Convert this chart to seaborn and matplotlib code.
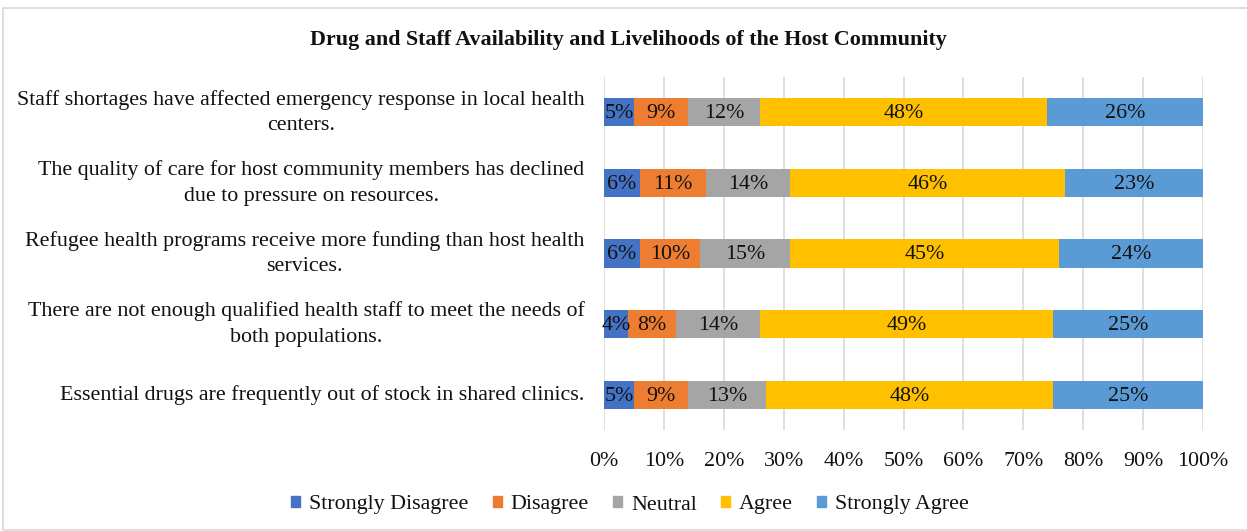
import numpy as np
import pandas as pd
import matplotlib
matplotlib.use("Agg")
import matplotlib.pyplot as plt
from matplotlib.patches import Rectangle
import seaborn as sns

statements = [
    "Staff shortages have affected emergency response in local health\ncenters.",
    "The quality of care for host community members has declined\ndue to pressure on resources.",
    "Refugee health programs receive more funding than host health\nservices.",
    "There are not enough qualified health staff to meet the needs of\nboth populations.",
    "Essential drugs are frequently out of stock in shared clinics.",
]
responses = ["Strongly Disagree", "Disagree", "Neutral", "Agree", "Strongly Agree"]
strongly_disagree = [5, 6, 6, 4, 5]
disagree = [9, 11, 10, 8, 9]
neutral = [12, 14, 15, 14, 13]
agree = [48, 46, 45, 49, 48]
strongly_agree = [26, 23, 24, 25, 25]
tick_labels = ["0%", "10%", "20%", "30%", "40%", "50%", "60%", "70%", "80%", "90%", "100%"]

colors = ["#4472C4", "#ED7D31", "#A5A5A5", "#FFC000", "#5B9BD5"]

sns.set_theme(style="white")
plt.rcParams["font.family"] = ["Liberation Serif", "DejaVu Serif"]
FS = 15.8
TXT = "#111111"

values = np.array([strongly_disagree, disagree, neutral, agree, strongly_agree], dtype=float)
cum = np.cumsum(values, axis=0)

fig = plt.figure(figsize=(12.47, 5.31), dpi=100)
ax = fig.add_axes([604 / 1247, 1 - 430 / 531, (1203 - 604) / 1247, (430 - 77) / 531])

# Stack by drawing cumulative totals from the outermost segment inward
for i in range(len(responses) - 1, -1, -1):
    df = pd.DataFrame({"statement": statements, "total": cum[i]})
    sns.barplot(data=df, x="total", y="statement", orient="h", color=colors[i],
                width=0.4, saturation=1, ax=ax, edgecolor="none", linewidth=0,
                zorder=2)

# Segment labels
for i in range(len(responses)):
    for j in range(len(statements)):
        left = cum[i][j] - values[i][j]
        ax.text(left + values[i][j] / 2, j + 0.02, f"{int(values[i][j])}%", ha="center",
                va="center", fontsize=FS, color=TXT, zorder=3)

ax.set_xlim(0, 100)
ax.set_ylim(4.5, -0.5)
ax.set_xticks(np.arange(0, 101, 10))
ax.set_xticklabels(tick_labels, fontsize=FS, color=TXT)
ax.set_yticks(range(len(statements)))
ax.set_yticklabels(statements, fontsize=FS, color=TXT, multialignment="center",
                   linespacing=1.45, va="center")
ax.tick_params(axis="x", length=0, pad=16)
ax.tick_params(axis="y", length=0, pad=14)
ax.set_xlabel("")
ax.set_ylabel("")
ax.xaxis.grid(True, color="#D9D9D9", linewidth=1.2, zorder=0)
ax.set_axisbelow(True)
for s in ax.spines.values():
    s.set_visible(False)

fig.text(628 / 1247, 1 - 40 / 531, "Drug and Staff Availability and Livelihoods of the Host Community",
         ha="center", va="center", fontsize=FS, fontweight="bold", color=TXT)

handles = [Rectangle((0, 0), 1, 1, color=c) for c in colors]
fig.legend(handles, responses, loc="center", bbox_to_anchor=(630 / 1247, 1 - 505 / 531),
           ncol=5, frameon=False, fontsize=FS, handlelength=0.42, handleheight=0.42,
           handletextpad=0.4, columnspacing=1.1, labelcolor=TXT)

fig.patches.append(Rectangle((3 / 1247, 0.002), 1.2, 1 - 8 / 531 - 0.002,
                             transform=fig.transFigure, fill=False,
                             edgecolor="#D9D9D9", linewidth=1.2))

fig.savefig("out.png", dpi=100)
